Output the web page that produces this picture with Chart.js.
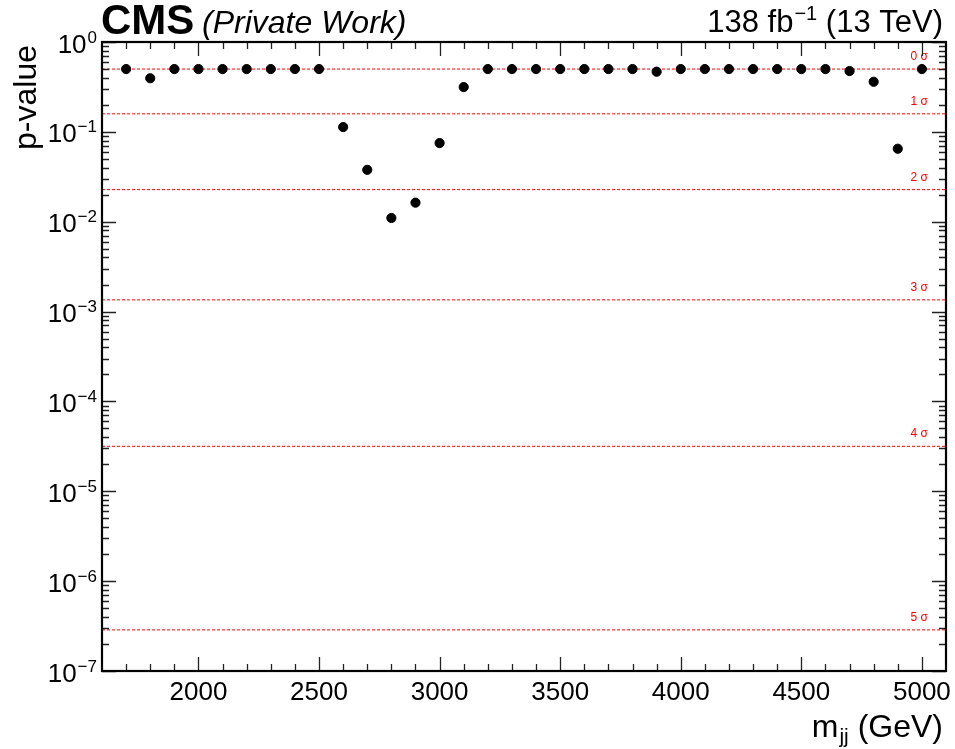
<!DOCTYPE html>
<html>
<head>
<meta charset="utf-8">
<script src="https://cdn.jsdelivr.net/npm/chart.js@4.4.1/dist/chart.umd.min.js"></script>
<style>
  html, body { margin: 0; padding: 0; background: #fff; }
  #wrap { width: 955px; height: 749px; position: relative; }
</style>
</head>
<body>
<div id="wrap"><canvas id="c" width="955" height="749"></canvas></div>
<script>
// ---- data ----
const massPoints = [1700, 1800, 1900, 2000, 2100, 2200, 2300, 2400, 2500, 2600,
                    2700, 2800, 2900, 3000, 3100, 3200, 3300, 3400, 3500, 3600,
                    3700, 3800, 3900, 4000, 4100, 4200, 4300, 4400, 4500, 4600,
                    4700, 4800, 4900, 5000];
const pValues = [0.5, 0.395, 0.5, 0.5, 0.5, 0.5, 0.5, 0.5, 0.5, 0.113,
                 0.0378, 0.011, 0.0163, 0.075, 0.315, 0.5, 0.5, 0.5, 0.5, 0.5,
                 0.5, 0.5, 0.467, 0.5, 0.5, 0.5, 0.5, 0.5, 0.5, 0.5,
                 0.475, 0.361, 0.0649, 0.5];
const sigmaLabels = ['0 σ', '1 σ', '2 σ', '3 σ', '4 σ', '5 σ'];
const sigmaPValues = [0.5, 0.1587, 0.02275, 0.00135, 3.167e-5, 2.867e-7];
const xRange = [1600, 5100];
const xTickLabels = [2000, 2500, 3000, 3500, 4000, 4500, 5000];
const yTickExponents = [0, -1, -2, -3, -4, -5, -6, -7];

// ---- build datasets ----
const FONT = '"Liberation Sans", Arial, Helvetica, sans-serif';
const datasets = [{
  type: 'scatter',
  label: 'p-value',
  data: massPoints.map((m, i) => ({ x: m, y: pValues[i] })),
  backgroundColor: '#000',
  borderColor: '#000',
  pointRadius: 4.6,
  pointHoverRadius: 4.6,
  order: 0
}];
sigmaPValues.forEach((p, i) => {
  datasets.push({
    type: 'line',
    label: sigmaLabels[i],
    data: [{ x: xRange[0], y: p }, { x: xRange[1], y: p }],
    borderColor: '#ff0000',
    borderWidth: 1,
    borderDash: [3, 2],
    pointRadius: 0,
    fill: false,
    order: 1
  });
});

function supText(ctx, base, sup, x, y, baseFont, supFont, rise, align) {
  ctx.font = baseFont;
  const wb = ctx.measureText(base).width;
  ctx.font = supFont;
  const ws = ctx.measureText(sup).width;
  let x0 = x;
  if (align === 'right') x0 = x - wb - ws;
  else if (align === 'center') x0 = x - (wb + ws) / 2;
  ctx.textAlign = 'left';
  ctx.font = baseFont;
  ctx.fillText(base, x0, y);
  ctx.font = supFont;
  ctx.fillText(sup, x0 + wb + 1, y - rise);
}

const rootStyle = {
  id: 'rootStyle',
  afterDatasetsDraw(chart) {
    const ctx = chart.ctx;
    const a = chart.chartArea;
    const xs = chart.scales.x, ys = chart.scales.y;
    ctx.save();
    ctx.textBaseline = 'alphabetic';

    // sigma labels
    ctx.fillStyle = '#ff0000';
    ctx.font = '12px ' + FONT;
    ctx.textAlign = 'right';
    sigmaPValues.forEach((p, i) => {
      ctx.fillText(sigmaLabels[i], a.right - 18, ys.getPixelForValue(p) - 9);
    });

    // ticks
    ctx.strokeStyle = '#222';
    ctx.lineWidth = 1.3;
    ctx.beginPath();
    for (let v = 1700; v <= 5000; v += 100) {
      const px = Math.round(xs.getPixelForValue(v)) + 0.5;
      const len = (v % 500 === 0) ? 14 : 7;
      ctx.moveTo(px, a.bottom); ctx.lineTo(px, a.bottom - len);
      ctx.moveTo(px, a.top); ctx.lineTo(px, a.top + len);
    }
    for (let e = -7; e <= 0; e++) {
      for (let k = 1; k <= 9; k++) {
        if (e === 0 && k > 1) break;
        const v = k * Math.pow(10, e);
        const py = Math.round(ys.getPixelForValue(v)) + 0.5;
        const len = (k === 1) ? 14 : 7;
        ctx.moveTo(a.left, py); ctx.lineTo(a.left + len, py);
        ctx.moveTo(a.right, py); ctx.lineTo(a.right - len, py);
      }
    }
    ctx.stroke();

    // frame
    ctx.strokeStyle = '#000';
    ctx.lineWidth = 2.2;
    ctx.strokeRect(a.left, a.top, a.right - a.left, a.bottom - a.top);

    // x tick labels
    ctx.fillStyle = '#000';
    ctx.font = '26px ' + FONT;
    ctx.textAlign = 'center';
    xTickLabels.forEach(v => {
      ctx.fillText(String(v), xs.getPixelForValue(v), a.bottom + 29);
    });

    // y tick labels
    yTickExponents.forEach(e => {
      const py = ys.getPixelForValue(Math.pow(10, e));
      const sup = e === 0 ? '0' : '\u2212' + String(-e);
      supText(ctx, '10', sup, a.left - 6, py + 10.5, '26px ' + FONT, '17px ' + FONT, 10, 'right');
    });

    // y title
    ctx.save();
    ctx.translate(36, a.top + 3);
    ctx.rotate(-Math.PI / 2);
    ctx.font = '32px ' + FONT;
    ctx.textAlign = 'right';
    ctx.fillText('p-value', 0, 0);
    ctx.restore();

    // x title: m_jj (GeV)
    {
      const rightX = 942, base = 737;
      const f1 = '32px ' + FONT, f2 = '21px ' + FONT;
      ctx.font = f1; const wm = ctx.measureText('m').width;
      const wr = ctx.measureText(' (GeV)').width;
      ctx.font = f2; const wj = ctx.measureText('jj').width;
      const x0 = rightX - wm - wj - wr;
      ctx.textAlign = 'left';
      ctx.font = f1; ctx.fillText('m', x0, base);
      ctx.font = f2; ctx.fillText('jj', x0 + wm + 1, base + 6);
      ctx.font = f1; ctx.fillText(' (GeV)', x0 + wm + wj + 1, base);
    }

    // header
    ctx.textAlign = 'left';
    ctx.font = 'bold 42px ' + FONT;
    ctx.fillText('CMS', 101, 34);
    ctx.font = 'italic 32px ' + FONT;
    ctx.fillText('(Private Work)', 202, 33);

    {
      const rightX = 943, base = 32;
      const f1 = '31px ' + FONT, f2 = '20px ' + FONT;
      ctx.font = f1; const w1 = ctx.measureText('138 fb').width;
      const w3 = ctx.measureText(' (13 TeV)').width;
      ctx.font = f2; const w2 = ctx.measureText('\u22121').width;
      const x0 = rightX - w1 - w2 - w3 - 1;
      ctx.font = f1; ctx.fillText('138 fb', x0, base);
      ctx.font = f2; ctx.fillText('\u22121', x0 + w1 + 1, base - 12);
      ctx.font = f1; ctx.fillText(' (13 TeV)', x0 + w1 + w2 + 1, base);
    }
    ctx.restore();
  }
};

new Chart(document.getElementById('c'), {
  data: { datasets },
  options: {
    responsive: false,
    animation: false,
    layout: { padding: { left: 102, top: 42, right: 9, bottom: 78 } },
    plugins: { legend: { display: false }, tooltip: { enabled: false } },
    scales: {
      x: { type: 'linear', min: xRange[0], max: xRange[1], display: false },
      y: { type: 'logarithmic', min: 1e-7, max: 1, display: false }
    }
  },
  plugins: [rootStyle]
});
</script>
</body>
</html>
